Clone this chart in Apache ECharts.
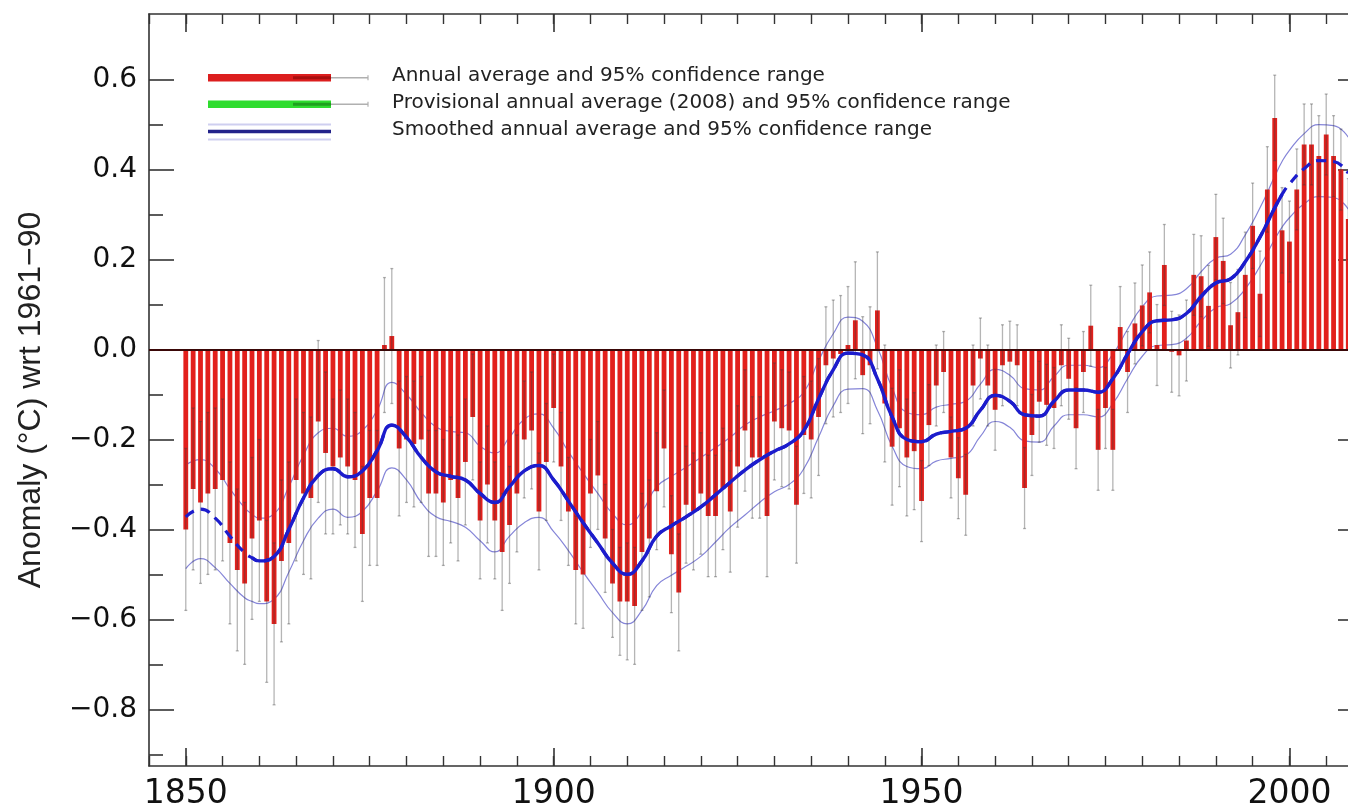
<!DOCTYPE html>
<html><head><meta charset="utf-8">
<script src="https://cdn.jsdelivr.net/npm/echarts@6/dist/echarts.min.js"></script>
<style>html,body{margin:0;padding:0;background:#fff;overflow:hidden;}#c{width:1400px;height:811px;}</style>
</head><body><div id="c"></div>
<script>
// ---------------- DATA ----------------
const firstYear = 1850;
// Annual global anomalies (°C wrt 1961-90), 1850..2008
const anomalies = [
 -0.40,-0.31,-0.34,-0.32,-0.31,-0.29,-0.43,-0.49,-0.52,-0.42,   // 1850s
 -0.38,-0.56,-0.61,-0.47,-0.43,-0.29,-0.32,-0.33,-0.16,-0.23,   // 1860s
 -0.26,-0.24,-0.26,-0.29,-0.41,-0.33,-0.33, 0.01, 0.03,-0.22,   // 1870s
 -0.20,-0.21,-0.20,-0.32,-0.32,-0.34,-0.29,-0.33,-0.25,-0.15,   // 1880s
 -0.38,-0.30,-0.38,-0.45,-0.39,-0.32,-0.20,-0.18,-0.36,-0.25,   // 1890s
 -0.13,-0.26,-0.36,-0.49,-0.50,-0.32,-0.28,-0.42,-0.52,-0.56,   // 1900s
 -0.56,-0.57,-0.45,-0.42,-0.315,-0.22,-0.455,-0.54,-0.345,-0.36, // 1910s
 -0.32,-0.37,-0.37,-0.31,-0.36,-0.26,-0.18,-0.24,-0.24,-0.37,   // 1920s
 -0.16,-0.175,-0.18,-0.345,-0.19,-0.20,-0.15,-0.035,-0.02,-0.01, // 1930s
  0.01, 0.065,-0.057,-0.035,0.087,-0.12,-0.216,-0.175,-0.24,-0.226, // 1940s
 -0.337,-0.168,-0.08,-0.05,-0.24,-0.286,-0.323,-0.08,-0.02,-0.08, // 1950s
 -0.134,-0.035,-0.027,-0.035,-0.308,-0.19,-0.116,-0.123,-0.13,-0.035, // 1960s
 -0.065,-0.175,-0.05,0.053,-0.223,-0.13,-0.223,0.05,-0.05,0.058, // 1970s
  0.098,0.127,0.01,0.188,-0.005,-0.013,0.02,0.166,0.163,0.097,  // 1980s
  0.25,0.197,0.054,0.083,0.166,0.275,0.124,0.356,0.515,0.265,   // 1990s
  0.24,0.356,0.456,0.456,0.43,0.478,0.43,0.40,0.29              // 2000s
];
// 95% confidence half-width of the annual values, one per decade (1850s..2000s)
const ciHalfWidthByDecade = [0.18,0.18,0.15,0.14,0.13,0.12,0.13,0.135,0.13,0.13,0.09,0.09,0.09,0.09,0.095,0.09];

// Smoothed curve and its 95% range
const smoothYears = [1850,1852,1854,1856,1858,1859,1860,1862,1864,1866,1868,1870,1872,1874,1876,1878,1880,1882,1884,1886,1888,1890,1892,1894,1896,1898,1900,1902,1904,1906,1908,1910,1912,1914,1916,1918,1920,1922,1924,1926,1928,1930,1932,1934,1936,1938,1940,1942,1944,1946,1948,1950,1952,1954,1956,1958,1960,1962,1964,1966,1968,1970,1972,1974,1976,1978,1980,1982,1984,1986,1988,1990,1992,1994,1996,1998,1999,2000,2002,2004,2006,2008];
const smoothMid = [-0.372,-0.355,-0.375,-0.415,-0.452,-0.463,-0.470,-0.460,-0.400,-0.330,-0.280,-0.265,-0.283,-0.270,-0.225,-0.168,-0.195,-0.240,-0.272,-0.282,-0.290,-0.320,-0.340,-0.305,-0.270,-0.258,-0.290,-0.337,-0.385,-0.430,-0.475,-0.500,-0.470,-0.415,-0.392,-0.372,-0.350,-0.323,-0.295,-0.268,-0.245,-0.226,-0.210,-0.180,-0.110,-0.045,-0.008,-0.012,-0.065,-0.150,-0.200,-0.205,-0.188,-0.182,-0.175,-0.135,-0.102,-0.115,-0.145,-0.148,-0.115,-0.090,-0.090,-0.095,-0.065,-0.010,0.040,0.064,0.066,0.080,0.118,0.148,0.157,0.195,0.250,0.315,0.345,0.368,0.402,0.420,0.418,0.392];
const smoothUpper = [-0.257,-0.245,-0.265,-0.310,-0.352,-0.366,-0.375,-0.365,-0.305,-0.235,-0.185,-0.175,-0.193,-0.180,-0.135,-0.073,-0.100,-0.140,-0.172,-0.182,-0.185,-0.215,-0.230,-0.195,-0.155,-0.143,-0.175,-0.227,-0.275,-0.320,-0.365,-0.390,-0.360,-0.305,-0.282,-0.262,-0.240,-0.218,-0.195,-0.168,-0.150,-0.136,-0.120,-0.095,-0.025,0.035,0.072,0.063,0.005,-0.085,-0.140,-0.145,-0.128,-0.122,-0.115,-0.077,-0.044,-0.057,-0.087,-0.090,-0.060,-0.035,-0.035,-0.040,-0.010,0.045,0.095,0.119,0.121,0.135,0.173,0.203,0.212,0.255,0.315,0.385,0.418,0.443,0.480,0.500,0.498,0.472];
const smoothLower = [-0.487,-0.465,-0.485,-0.520,-0.552,-0.560,-0.565,-0.555,-0.495,-0.425,-0.375,-0.355,-0.373,-0.360,-0.315,-0.263,-0.290,-0.340,-0.372,-0.382,-0.395,-0.425,-0.450,-0.415,-0.385,-0.373,-0.405,-0.447,-0.495,-0.540,-0.585,-0.610,-0.580,-0.525,-0.502,-0.482,-0.460,-0.428,-0.395,-0.368,-0.340,-0.316,-0.300,-0.265,-0.195,-0.125,-0.088,-0.087,-0.135,-0.215,-0.260,-0.265,-0.248,-0.242,-0.235,-0.193,-0.160,-0.173,-0.203,-0.206,-0.170,-0.145,-0.145,-0.150,-0.120,-0.065,-0.015,0.009,0.011,0.025,0.063,0.093,0.102,0.135,0.185,0.245,0.272,0.293,0.324,0.340,0.338,0.312];
const solidFrom = 1859, solidTo = 1999; // smoothed curve drawn dashed outside this span

const xTickLabels = [1850, 1900, 1950, 2000];
const yTickLabels = [-0.8, -0.6, -0.4, -0.2, 0.0, 0.2, 0.4, 0.6];
const yMinorTicks = [-0.9, -0.7, -0.5, -0.3, -0.1, 0.1, 0.3, 0.5];
const legendLabels = [
  'Annual average and 95% confidence range',
  'Provisional annual average (2008) and 95% confidence range',
  'Smoothed annual average and 95% confidence range'
];
const yAxisTitle = 'Anomaly (°C) wrt 1961\u221290';

// ---------------- BUILD ----------------
const barData = anomalies.map((v, i) => [firstYear + i, v]);
const errData = anomalies.map((v, i) => {
  const h = ciHalfWidthByDecade[Math.floor(i / 10)];
  return [firstYear + i, v - h, v + h];
});
const midAll = smoothYears.map((y, i) => [y, smoothMid[i]]);
const midSolid = midAll.filter(d => d[0] >= solidFrom && d[0] <= solidTo);
const upAll = smoothYears.map((y, i) => [y, smoothUpper[i]]);
const loAll = smoothYears.map((y, i) => [y, smoothLower[i]]);

const AX = '#333';
const X_MIN = 1845, X_MAX = 2010, Y_MIN = -0.926, Y_MAX = 0.746;
const fmtY = v => (v < 0 ? '\u2212' : '') + Math.abs(v).toFixed(1);

function xAx(pos, major) {
  return {
    type: 'value', min: X_MIN, max: X_MAX, position: pos,
    interval: major ? undefined : 5,
    axisLine: { show: major, onZero: false, lineStyle: { color: AX, width: 1.6 } },
    axisTick: major
      ? { show: true, inside: true, length: 18, customValues: xTickLabels, lineStyle: { color: AX, width: 1.6 } }
      : { show: true, inside: true, length: 10, lineStyle: { color: AX, width: 1.4 } },
    axisLabel: (major && pos === 'bottom')
      ? { show: true, customValues: xTickLabels, fontFamily: 'DejaVu Sans', fontSize: 33, color: '#111', margin: 12, formatter: v => String(v) }
      : { show: false },
    splitLine: { show: false }
  };
}
function yAx(pos, major) {
  return {
    type: 'value', min: Y_MIN, max: Y_MAX, position: pos,
    axisLine: { show: major, onZero: false, lineStyle: { color: AX, width: 1.6 } },
    axisTick: { show: true, inside: true, length: major ? 25 : 14, customValues: major ? yTickLabels : yMinorTicks, lineStyle: { color: AX, width: 1.6 } },
    axisLabel: (major && pos === 'left')
      ? { show: true, customValues: yTickLabels, fontFamily: 'DejaVu Sans', fontSize: 28, color: '#111', margin: 12, formatter: fmtY }
      : { show: false },
    splitLine: { show: false },
    name: (major && pos === 'left') ? yAxisTitle : '',
    nameLocation: 'middle', nameRotate: 90, nameGap: 102,
    nameTextStyle: { fontFamily: 'Liberation Sans', fontSize: 32, color: '#222', padding: [0, 20, 0, 0] }
  };
}

// legend (drawn as graphic, not data)
const LX = 208, LW = 123, LEXT = 37, TX = 392;
const legendRows = [77.7, 104.3, 131.5];
function barKey(y, main, dark) {
  return [
    { type: 'rect', shape: { x: LX, y: y - 3.8, width: LW, height: 7.6 }, style: { fill: main } },
    { type: 'rect', shape: { x: LX + 85, y: y - 1.5, width: LW - 85, height: 3 }, style: { fill: dark } },
    { type: 'line', shape: { x1: LX + LW, y1: y, x2: LX + LW + LEXT, y2: y }, style: { stroke: '#b0b0b0', lineWidth: 1.5 } },
    { type: 'line', shape: { x1: LX + LW + LEXT, y1: y - 2.5, x2: LX + LW + LEXT, y2: y + 2.5 }, style: { stroke: '#b0b0b0', lineWidth: 1.2 } }
  ];
}
const g = [];
g.push(...barKey(legendRows[0], '#dc1e1e', '#a80f0f'));
g.push(...barKey(legendRows[1], '#2fdc2f', '#1fa01f'));
const by = legendRows[2];
g.push({ type: 'line', shape: { x1: LX, y1: by - 7, x2: LX + LW, y2: by - 7 }, style: { stroke: '#cfcff0', lineWidth: 2 } });
g.push({ type: 'line', shape: { x1: LX, y1: by + 8, x2: LX + LW, y2: by + 8 }, style: { stroke: '#cfcff0', lineWidth: 2 } });
g.push({ type: 'line', shape: { x1: LX, y1: by, x2: LX + LW, y2: by }, style: { stroke: '#22228a', lineWidth: 3.5 } });
legendLabels.forEach((t, i) => g.push({
  type: 'text', x: TX, y: legendRows[i] - 2,
  style: { text: t, fill: '#222', font: '20px "DejaVu Sans"', textVerticalAlign: 'middle', verticalAlign: 'middle' }
}));

const chart = echarts.init(document.getElementById('c'), null, { renderer: 'canvas' });
chart.setOption({
  backgroundColor: '#fff',
  animation: false,
  grid: { left: 149, top: 14, right: 37, bottom: 42, show: false },
  xAxis: [xAx('bottom', true), xAx('bottom', false), xAx('top', true), xAx('top', false)],
  yAxis: [yAx('left', true), yAx('left', false), yAx('right', true), yAx('right', false)],
  graphic: g,
  series: [
    { type: 'line', name: 'upper', data: upAll, smooth: true, symbol: 'none', z: 1,
      lineStyle: { color: '#8585d8', width: 1.2 } },
    { type: 'line', name: 'lower', data: loAll, smooth: true, symbol: 'none', z: 1,
      lineStyle: { color: '#8585d8', width: 1.2 } },
    { type: 'bar', name: 'annual', data: barData, barWidth: 4.8, z: 2,
      itemStyle: { color: '#e2201c' },
      markLine: { silent: true, symbol: 'none', label: { show: false },
        lineStyle: { color: '#3a0808', width: 2, type: 'solid' }, data: [{ yAxis: 0 }] } },
    { type: 'custom', name: 'ci', data: errData, z: 3,
      renderItem: (params, api) => {
        const x = api.value(0);
        const lo = api.coord([x, api.value(1)]);
        const hi = api.coord([x, api.value(2)]);
        const st = { stroke: 'rgba(60,60,60,0.38)', lineWidth: 1.3 };
        return { type: 'group', children: [
          { type: 'line', shape: { x1: lo[0], y1: lo[1], x2: hi[0], y2: hi[1] }, style: st },
          { type: 'line', shape: { x1: lo[0] - 1.5, y1: lo[1], x2: lo[0] + 1.5, y2: lo[1] }, style: st },
          { type: 'line', shape: { x1: hi[0] - 1.5, y1: hi[1], x2: hi[0] + 1.5, y2: hi[1] }, style: st }
        ] };
      } },
    { type: 'line', name: 'smooth-dashed', data: midAll, smooth: true, symbol: 'none', z: 4,
      lineStyle: { color: '#1c1ccc', width: 3.2, type: [10, 7] } },
    { type: 'line', name: 'smooth', data: midSolid, smooth: true, symbol: 'none', z: 5,
      lineStyle: { color: '#1c1ccc', width: 3.4 } }
  ]
});
</script></body></html>
